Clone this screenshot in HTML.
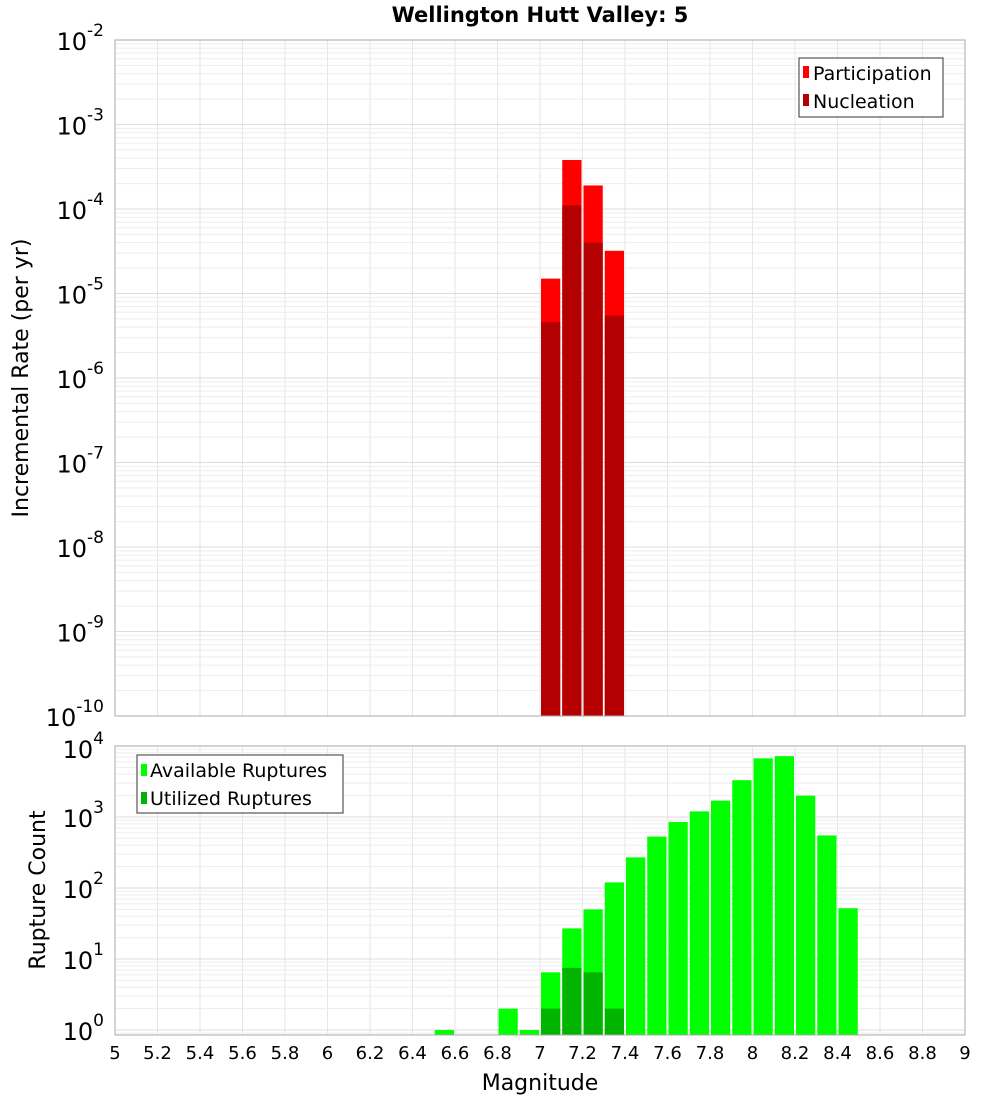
<!DOCTYPE html>
<html><head><meta charset="utf-8"><style>
body{margin:0;background:#fff;font-family:"DejaVu Sans","Liberation Sans",sans-serif}
svg text{font-family:"DejaVu Sans","Liberation Sans",sans-serif}
</style></head><body>
<svg id="c" width="1000" height="1100" xmlns="http://www.w3.org/2000/svg">
<text x="540" y="22" text-anchor="middle" font-size="21" font-weight="bold">Wellington Hutt Valley: 5</text>
<text transform="translate(28,378) rotate(-90)" text-anchor="middle" font-size="22">Incremental Rate (per yr)</text>
<text transform="translate(45,890) rotate(-90)" text-anchor="middle" font-size="22">Rupture Count</text>
<text x="540" y="1090" text-anchor="middle" font-size="22">Magnitude</text>
<g id="top"></g><g id="bot"></g><g id="xt"></g>
</svg>
<script>
const bins=[6.55,6.65,6.75,6.85,6.95,7.05,7.15,7.25,7.35,7.45,7.55,7.65,7.75,7.85,7.95,8.05,8.15,8.25,8.35,8.45];
const topBins=[7.05,7.15,7.25,7.35];
const participation=[1.5e-5,3.8e-4,1.9e-4,3.2e-5];
const nucleation=[4.6e-6,1.1e-4,4.0e-5,5.5e-6];
const available=[1,0,0,2,1,6.5,27,50,120,270,530,850,1200,1700,3300,6700,7200,2000,550,52];
const utilized=[0,0,0,0,0,2,7.5,6.5,2,0,0,0,0,0,0,0,0,0,0,0];
const xTicks=["5","5.2","5.4","5.6","5.8","6","6.2","6.4","6.6","6.8","7","7.2","7.4","7.6","7.8","8","8.2","8.4","8.6","8.8","9"];
const NS="http://www.w3.org/2000/svg";
const X0=115,X1=965;
const xs=v=>X0+(v-5)/4*(X1-X0);
const T={y0:40,y1:716,lo:-10,hi:-2};
const B={y0:746,y1:1035,lo:-0.07,hi:4};
const ys=(P,v)=>P.y1-(Math.log10(v)-P.lo)/(P.hi-P.lo)*(P.y1-P.y0);
function el(p,t,a){const e=document.createElementNS(NS,t);for(const k in a)e.setAttribute(k,a[k]);p.appendChild(e);return e;}
function frame(g,P,name){
  for(let v=5;v<=9.001;v+=0.2){const x=xs(v);const l=el(g,'line',{x1:x,x2:x,y1:P.y0,y2:P.y1,stroke:'#e6e6e6'});}
  for(let d=Math.floor(P.lo);d<P.hi;d++)for(let m=1;m<10;m++){const lv=d+Math.log10(m);if(lv<P.lo||lv>P.hi)continue;const y=ys(P,Math.pow(10,lv));const l=el(g,'line',{x1:X0,x2:X1,y1:y,y2:y,stroke:m==1?'#dcdcdc':'#ededed'});}
}
function border(g,P){const r=el(g,'rect',{x:X0,y:P.y0,width:X1-X0,height:P.y1-P.y0,fill:'none',stroke:'#aaa'});}
function ylab(g,P,d,dy){const y=ys(P,Math.pow(10,d));const t=el(g,'text',{x:104,y:y+10+(dy||0),'text-anchor':'end','font-size':'24'});
  t.textContent='10';const s=el(t,'tspan',{dy:-14,'font-size':'17'});s.textContent=String(d);}
const g1=document.getElementById('top');frame(g1,T);
topBins.forEach((b,i)=>{
  const x=xs(b-0.05)+1,w=xs(0.1+5)-X0-2;
  let y=ys(T,participation[i]);let r=el(g1,'rect',{x:x,y:y,width:w,height:T.y1-y,fill:'#ff0000'});
  
  y=ys(T,nucleation[i]);r=el(g1,'rect',{x:x,y:y,width:w,height:T.y1-y,fill:'#b40000'});
  
});
border(g1,T);
for(let d=-2;d>=-10;d--){const tl=document.createElementNS(NS,'g');g1.appendChild(tl);ylab(tl,T,d);}
// top legend
(function(){const lg=el(g1,'g',{});
el(lg,'rect',{x:799,y:58,width:144,height:59,fill:'#fff',stroke:'#333'});
el(lg,'rect',{x:803,y:66,width:6,height:12,fill:'#ff0000'});
el(lg,'rect',{x:803,y:94,width:6,height:12,fill:'#b40000'});
let t=el(lg,'text',{x:813,y:80,'font-size':'19'});t.textContent='Participation';
t=el(lg,'text',{x:813,y:108,'font-size':'19'});t.textContent='Nucleation';})();
const g2=document.getElementById('bot');frame(g2,B);
bins.forEach((b,i)=>{
  const x=xs(b-0.05)+1,w=xs(0.1+5)-X0-2;
  if(available[i]>0){const y=ys(B,available[i]);const r=el(g2,'rect',{x:x,y:y,width:w,height:B.y1-y,fill:'#00ff00'});}
  if(utilized[i]>0){const y=ys(B,utilized[i]);const r=el(g2,'rect',{x:x,y:y,width:w,height:B.y1-y,fill:'#00b400'});}
});
border(g2,B);
for(let d=0;d<=4;d++){const tl=document.createElementNS(NS,'g');g2.appendChild(tl);ylab(tl,B,d,d==4?2:0);}
(function(){const lg=el(g2,'g',{});
el(lg,'rect',{x:137,y:755,width:206,height:58,fill:'#fff',stroke:'#333'});
el(lg,'rect',{x:141,y:764,width:6,height:12,fill:'#00ff00'});
el(lg,'rect',{x:141,y:792,width:6,height:12,fill:'#00b400'});
let t=el(lg,'text',{x:150,y:777,'font-size':'19'});t.textContent='Available Ruptures';
t=el(lg,'text',{x:150,y:805,'font-size':'19'});t.textContent='Utilized Ruptures';})();
const g3=document.getElementById('xt');
xTicks.forEach(s=>{const t=el(g3,'text',{x:xs(parseFloat(s)),y:1059,'text-anchor':'middle','font-size':'18'});t.textContent=s;
});
</script>
</body></html>
